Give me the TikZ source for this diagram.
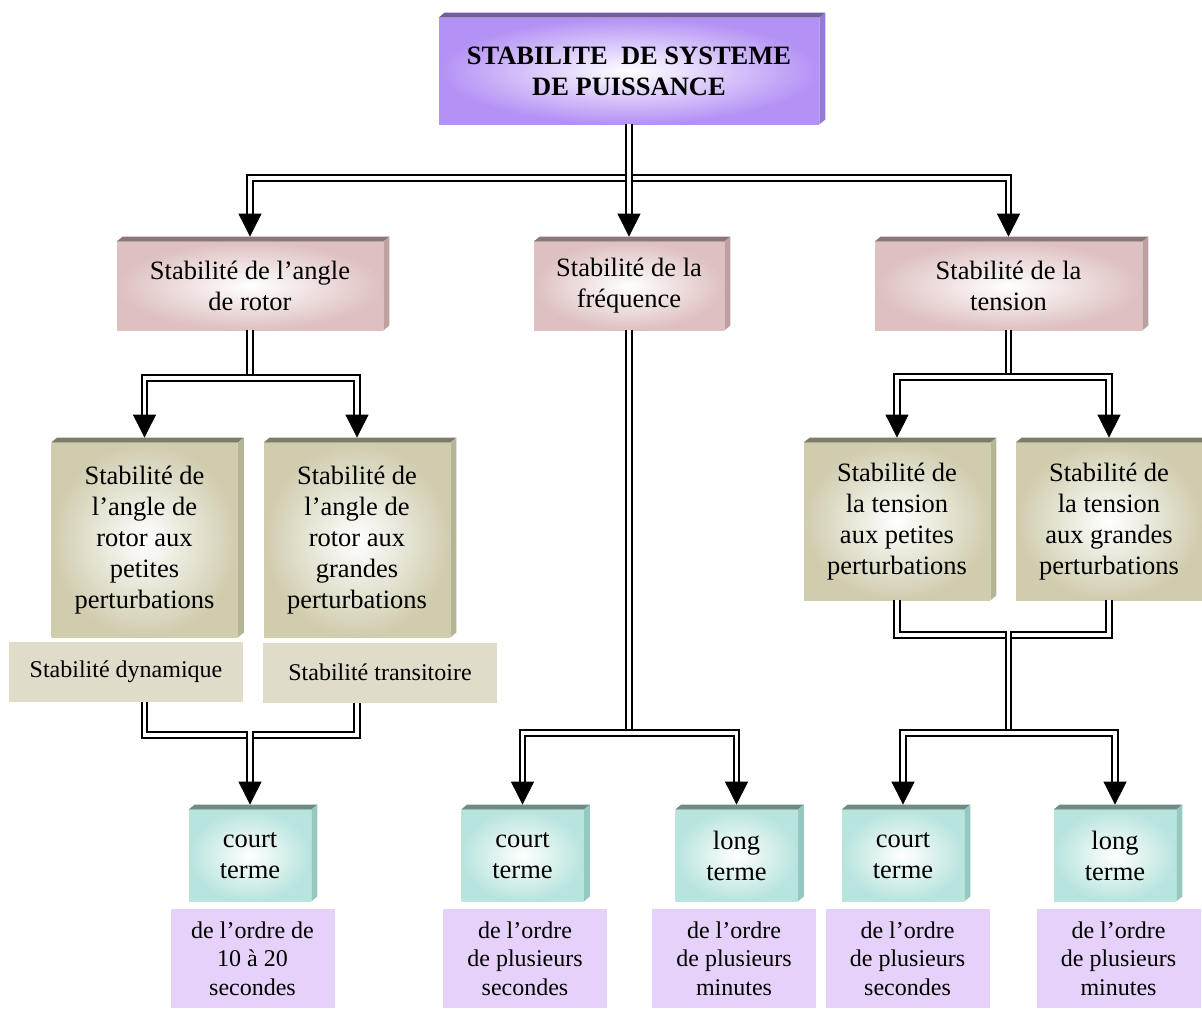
\documentclass[tikz,border=0pt]{standalone}
\usepackage{fontspec}
\setmainfont{Liberation Serif}
\usetikzlibrary{arrows.meta,decorations.markings}
\definecolor{titlec}{RGB}{180,145,245}
\definecolor{titletop}{RGB}{112,94,158}
\definecolor{titleside}{RGB}{150,122,215}
\definecolor{pinkc}{RGB}{222,192,192}
\definecolor{pinktop}{RGB}{140,118,118}
\definecolor{pinkside}{RGB}{190,160,160}
\definecolor{olivec}{RGB}{208,204,174}
\definecolor{olivetop}{RGB}{125,124,104}
\definecolor{oliveside}{RGB}{183,180,150}
\definecolor{beigec}{RGB}{224,220,202}
\definecolor{cyanc}{RGB}{184,228,222}
\definecolor{cyantop}{RGB}{110,140,134}
\definecolor{cyanside}{RGB}{150,200,194}
\definecolor{lilac}{RGB}{229,209,249}
\newcommand\bigtxt{\fontsize{13.25}{15.5}\selectfont}
\newcommand\smalltxt{\fontsize{12}{14.2}\selectfont}

\tikzset{
  bevel/.style 2 args={append after command={\pgfextra{
    \fill[#1] (\tikzlastnode.north west) -- ++(3pt,2.5pt) -- ([shift={(3pt,2.5pt)}]\tikzlastnode.north east) -- (\tikzlastnode.north east) -- cycle;
    \fill[#2] (\tikzlastnode.north east) -- ++(3pt,2.5pt) -- ([shift={(3pt,2.5pt)}]\tikzlastnode.south east) -- (\tikzlastnode.south east) -- cycle;}}},
  block/.style={inner sep=0pt, align=center, font=\bigtxt},
  titlebox/.style={block, shade, inner color=white, outer color=titlec, minimum width=190pt, minimum height=53pt, font=\bigtxt\bfseries, bevel={titletop}{titleside}},
  kindbox/.style={block, shade, inner color=white, outer color=pinkc, minimum height=44pt, bevel={pinktop}{pinkside}},
  subbox/.style={block, shade, inner color=white, outer color=olivec, minimum width=93pt, bevel={olivetop}{oliveside}},
  termbox/.style={block, shade, inner color=white, outer color=cyanc, minimum width=61pt, minimum height=45.5pt, bevel={cyantop}{cyanside}},
  tag/.style={block, fill=beigec, minimum width=117pt, minimum height=30pt, font=\smalltxt},
  delay/.style={block, fill=lilac, minimum width=82pt, minimum height=49.5pt, font=\smalltxt},
  link/.style={draw, double, double distance=1.7pt, line width=1pt},
  arrowlink/.style={link, shorten >=10pt, postaction={decorate},
    decoration={markings, mark=at position 1 with {\pgfsetinnerlinewidth{0pt}\arrow[line width=0.4pt]{Triangle[width=11.5pt,length=11.5pt]}}}}
}

\begin{document}
\begin{tikzpicture}[x=0.5pt, y=-0.5pt]
\useasboundingbox (0,0) rectangle (1202,1009);
\node[titlebox] (s) at (629,71) {STABILITE~ DE SYSTEME\\DE PUISSANCE};
\node[kindbox, minimum width=133pt] (a) at (250,286) {Stabilité de l’angle\\de rotor};
\node[kindbox, minimum width=95pt] (f) at (629,286) {Stabilité de la\\fréquence};
\node[kindbox, minimum width=133.5pt] (t) at (1008.5,286) {Stabilité de la\\tension};
\node[subbox, minimum height=97pt] (al) at (144.5,540) {Stabilité de\\l’angle de\\rotor aux\\petites\\perturbations};
\node[subbox, minimum height=97pt] (ag) at (357,540) {Stabilité de\\l’angle de\\rotor aux\\grandes\\perturbations};
\node[subbox, minimum height=78.5pt] (tl) at (897,521.5) {Stabilité de\\la tension\\aux petites\\perturbations};
\node[subbox, minimum height=78.5pt] (tg) at (1109,521.5) {Stabilité de\\la tension\\aux grandes\\perturbations};
\node[tag] (dyn) at (126,672) {Stabilité dynamique};
\node[tag] (tr) at (380,672.5) {Stabilité transitoire};
\node[termbox] (ac) at (250,855.5) {court\\terme};
\node[termbox] (fc) at (522.5,855.5) {court\\terme};
\node[termbox] (fl) at (736.5,855.5) {long\\terme};
\node[termbox] (tc) at (903,855.5) {court\\terme};
\node[termbox] (tlo) at (1115,855.5) {long\\terme};
\node[delay] (dac) at (252.5,958.5) {de l’ordre de\\10 à 20\\secondes};
\node[delay] (dfc) at (525,958.5) {de l’ordre\\de plusieurs\\secondes};
\node[delay] (dfl) at (734,958.5) {de l’ordre\\de plusieurs\\minutes};
\node[delay] (dtc) at (907.5,958.5) {de l’ordre\\de plusieurs\\secondes};
\node[delay] (dtl) at (1118.5,958.5) {de l’ordre\\de plusieurs\\minutes};
\coordinate (js) at (629,178);
\coordinate (ja) at (250,378);
\coordinate (jt) at (1008.5,377);
\coordinate (jb) at (250,735);
\coordinate (jf) at (629,733);
\coordinate (jm) at (1008.5,635);
\coordinate (jr) at (1008.5,733);
\draw[arrowlink] (js) -| ([yshift=2.5pt]a.north);
\draw[arrowlink] (js) -| ([yshift=2.5pt]t.north);
\draw[arrowlink] (s.south) -- ([yshift=2.5pt]f.north);
\draw[link] (a.south) -- (ja);
\draw[arrowlink] (ja) -| ([yshift=2.5pt]al.north);
\draw[arrowlink] (ja) -| ([yshift=2.5pt]ag.north);
\draw[link] (t.south) -- (jt);
\draw[arrowlink] (jt) -| ([yshift=2.5pt]tl.north);
\draw[arrowlink] (jt) -| ([yshift=2.5pt]tg.north);
\draw[link] (dyn.south -| al.south) |- (jb);
\draw[link] (tr.south -| ag.south) |- (jb);
\draw[arrowlink] ([yshift=2pt]jb) -- ([yshift=2.5pt]ac.north);
\draw[link] (f.south) -- (jf);
\draw[arrowlink] (jf) -| ([yshift=2.5pt]fc.north);
\draw[arrowlink] (jf) -| ([yshift=2.5pt]fl.north);
\draw[link] (tl.south) |- (jm);
\draw[link] (tg.south) |- (jm);
\draw[link] ([yshift=2pt]jm) -- (jr);
\draw[arrowlink] (jr) -| ([yshift=2.5pt]tc.north);
\draw[arrowlink] (jr) -| ([yshift=2.5pt]tlo.north);
\end{tikzpicture}
\end{document}
